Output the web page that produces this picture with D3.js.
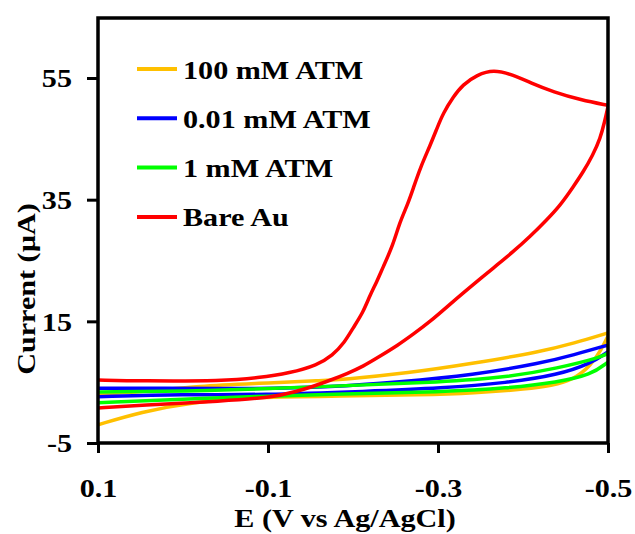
<!DOCTYPE html>
<html>
<head>
<meta charset="utf-8">
<script src="https://cdn.jsdelivr.net/npm/d3@7"></script>
<style>
  html, body { margin: 0; padding: 0; background: #fff; }
  svg { display: block; }
  text { font-family: "Liberation Serif", "Times New Roman", serif; font-weight: bold; fill: #000; }
</style>
</head>
<body>
<svg id="chart" width="635" height="534"></svg>
<script>
// ---- Data (E in V vs Ag/AgCl, current in µA); each CV loop = forward + reverse sweep ----
const seriesNames = ["100 mM ATM", "0.01 mM ATM", "1 mM ATM", "Bare Au"];
const seriesColors = ["#FFC000", "#0000FF", "#00FF00", "#FF0000"];

const atm100Fwd = [
  [0.1, 3.0], [0.049, 3.4], [-0.02, 4.4], [-0.088, 4.8], [-0.166, 5.3], [-0.186, 5.4],
  [-0.265, 6.5], [-0.342, 8.1], [-0.421, 10.0], [-0.46, 11.4], [-0.5, 13.1]
];
const atm100Rev = [
  [-0.5, 12.6], [-0.492, 10.3], [-0.48, 7.8], [-0.46, 5.4], [-0.433, 4.4], [-0.406, 3.9],
  [-0.342, 3.2], [-0.28, 2.9], [-0.186, 2.7], [-0.088, 2.6], [-0.009, 1.7], [0.049, 0.1], [0.1, -2.0]
];
const atm001Fwd = [
  [0.1, 4.0], [0.029, 4.0], [-0.088, 3.9], [-0.174, 4.2], [-0.253, 5.0], [-0.342, 6.2],
  [-0.421, 8.1], [-0.46, 9.5], [-0.5, 11.1]
];
const atm001Rev = [
  [-0.5, 10.0], [-0.48, 8.1], [-0.441, 6.2], [-0.382, 4.9], [-0.304, 4.0], [-0.218, 3.5],
  [-0.092, 2.9], [-0.001, 3.0], [0.1, 2.6]
];
const atm1Fwd = [
  [0.1, 3.4], [-0.021, 3.5], [-0.186, 4.4], [-0.304, 5.0], [-0.382, 5.8], [-0.441, 7.3],
  [-0.492, 9.1], [-0.5, 9.8]
];
const atm1Rev = [
  [-0.5, 8.3], [-0.48, 6.2], [-0.441, 5.0], [-0.382, 4.0], [-0.304, 3.4], [-0.186, 3.05],
  [-0.021, 2.4], [0.1, 1.6]
];
const bareAuFwd = [
  [0.1, 5.35], [0.049, 5.2], [-0.048, 5.2], [-0.088, 5.7], [-0.126, 6.5], [-0.158, 7.8],
  [-0.176, 9.4], [-0.19, 11.5], [-0.2, 13.9], [-0.212, 16.5], [-0.22, 19.3],
  [-0.228, 21.5], [-0.235, 23.8], [-0.247, 27.5], [-0.255, 31.3], [-0.264, 34.1],
  [-0.271, 36.9], [-0.279, 40.2], [-0.291, 44.0], [-0.299, 46.8], [-0.306, 49.2],
  [-0.318, 51.9], [-0.329, 53.9], [-0.346, 55.5], [-0.365, 56.4], [-0.389, 55.5],
  [-0.409, 54.2], [-0.436, 52.7], [-0.468, 51.4], [-0.5, 50.5]
];
const bareAuRev = [
  [-0.5, 50.3], [-0.496, 47.8], [-0.491, 45.1], [-0.482, 42.3], [-0.471, 39.6],
  [-0.459, 37.1], [-0.444, 34.1], [-0.428, 31.7], [-0.408, 28.9], [-0.388, 26.4],
  [-0.369, 24.2], [-0.353, 22.4], [-0.329, 19.6], [-0.314, 17.8], [-0.291, 15.0],
  [-0.271, 12.9], [-0.252, 11.0], [-0.232, 9.3], [-0.212, 7.6], [-0.193, 6.4],
  [-0.173, 5.3], [-0.153, 4.3], [-0.134, 3.5], [-0.106, 2.5], [-0.047, 1.9],
  [0.051, 1.2], [0.1, 0.75]
];
const xTicks = [0.1, -0.1, -0.3, -0.5];
const xTickLabels = ["0.1", "-0.1", "-0.3", "-0.5"];
const yTicks = [-5, 15, 35, 55];
const yTickLabels = ["-5", "15", "35", "55"];

// ---- Layout ----
const SX = 1.16;       // horizontal stretch of the original typography
const FS = 26;
const pLeft = 98, pRight = 608, pTop = 18, pBottom = 443;

const svg = d3.select("#chart");
const x = d3.scaleLinear().domain([0.1, -0.5]).range([pLeft, pRight]);
const y = d3.scaleLinear().domain([-5, 65]).range([pBottom, pBottom - 70 * 6.083]);

function label(g, px, py, s, anchor, rot) {
  return g.append("text")
    .attr("transform", `translate(${px},${py}) rotate(${rot || 0}) scale(${SX},1)`)
    .attr("text-anchor", anchor || "start")
    .style("font-size", FS + "px")
    .text(s);
}

// clip
svg.append("defs").append("clipPath").attr("id", "plotclip")
  .append("rect").attr("x", pLeft).attr("y", pTop).attr("width", pRight - pLeft).attr("height", pBottom - pTop);

// curves (drawn yellow, blue, green, red)
const line = d3.line().x(d => x(d[0])).y(d => y(d[1])).curve(d3.curveBasis);
const branches = [
  { data: atm100Fwd, s: 0 }, { data: atm100Rev, s: 0 },
  { data: atm001Fwd, s: 1 }, { data: atm001Rev, s: 1 },
  { data: atm1Fwd, s: 2 }, { data: atm1Rev, s: 2 },
  { data: bareAuFwd, s: 3 }, { data: bareAuRev, s: 3 }
];
const plot = svg.append("g").attr("clip-path", "url(#plotclip)");
plot.selectAll("path.cv").data(branches).join("path")
  .attr("class", "cv")
  .attr("d", d => line(d.data))
  .attr("fill", "none")
  .attr("stroke", d => seriesColors[d.s])
  .attr("stroke-width", 3.5)
  .attr("stroke-linejoin", "round")
  .attr("stroke-linecap", "round");

// axes
const xAxis = d3.axisBottom(x).tickValues(xTicks).tickSize(10).tickSizeOuter(0)
  .tickFormat((d, i) => xTickLabels[i]);
const gx = svg.append("g").attr("transform", `translate(0,${pBottom})`).call(xAxis);
gx.select(".domain").remove();
gx.selectAll(".tick line").attr("stroke", "#000").attr("stroke-width", 3);
gx.selectAll(".tick text")
  .attr("y", 54).attr("dy", 0)
  .attr("transform", `scale(${SX},1)`)
  .style("font-size", FS + "px").style("font-family", "Liberation Serif, serif").style("font-weight", "bold")
  .attr("fill", "#000");

const yAxis = d3.axisLeft(y).tickValues(yTicks).tickSize(11).tickSizeOuter(0)
  .tickFormat((d, i) => yTickLabels[i]);
const gy = svg.append("g").attr("transform", `translate(${pLeft},0)`).call(yAxis);
gy.select(".domain").remove();
gy.selectAll(".tick line").attr("stroke", "#000").attr("stroke-width", 3);
gy.selectAll(".tick text")
  .attr("x", -26 / SX).attr("dy", "0.34em")
  .attr("transform", `scale(${SX},1)`)
  .style("font-size", FS + "px").style("font-family", "Liberation Serif, serif").style("font-weight", "bold")
  .attr("fill", "#000");

// frame
svg.append("rect")
  .attr("x", pLeft).attr("y", pTop).attr("width", pRight - pLeft).attr("height", pBottom - pTop)
  .attr("fill", "none").attr("stroke", "#000").attr("stroke-width", 3.5);

// axis titles
label(svg, 345, 527, "E (V vs Ag/AgCl)", "middle");
label(svg, 35, 289, "Current (\u00B5A)", "middle", -90);

// legend
const legend = svg.append("g");
seriesNames.forEach((name, i) => {
  const ly = 69 + i * 49.3;
  legend.append("line")
    .attr("x1", 137).attr("x2", 177).attr("y1", ly).attr("y2", ly)
    .attr("stroke", seriesColors[i]).attr("stroke-width", 4);
  label(legend, 183, ly + 9.5, name, "start");
});
</script>
</body>
</html>
